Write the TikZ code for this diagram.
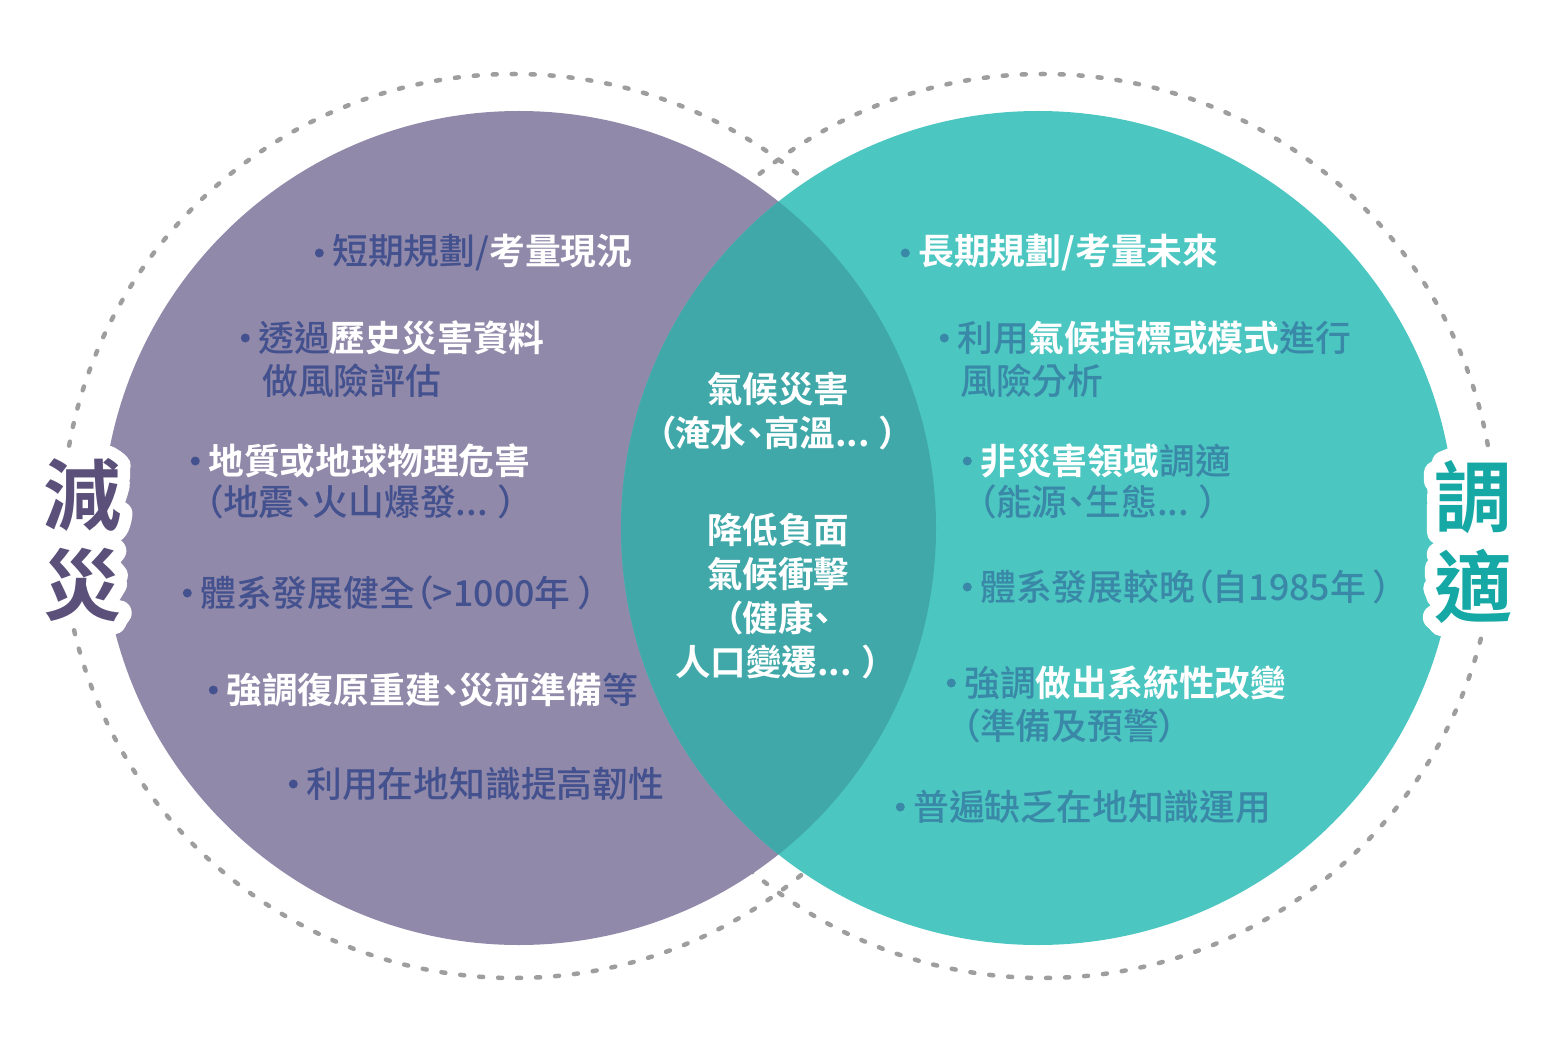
\documentclass[tikz,border=0pt]{standalone}
\usepackage{fontspec}
\newfontfamily\tcfont[RawFeature=+palt, UprightFont=* Medium, BoldFont=* Bold]{Noto Sans CJK TC}
\newfontfamily\halofont[FakeBold=32]{Noto Sans CJK TC Bold}
\usetikzlibrary{positioning}

\definecolor{mauve}{HTML}{9189A9}
\definecolor{aqua}{HTML}{4BC6C1}
\definecolor{overlap}{HTML}{41A8A9}
\definecolor{inkL}{HTML}{44518F}
\definecolor{inkR}{HTML}{3A88A7}
\definecolor{ring}{HTML}{9E9E9E}
\definecolor{tagL}{HTML}{5B5079}
\definecolor{tagR}{HTML}{15A8A5}

\newcommand{\hl}[1]{\textcolor{white}{\bfseries #1}}

\begin{document}
\begin{tikzpicture}[
  x=1pt, y=-1pt,
  txt/.style={inner sep=0pt, anchor=west, font=\tcfont\fontsize{35.8}{43}\selectfont},
  mid/.style={inner sep=0pt, align=center, text=white, font=\tcfont\bfseries\fontsize{35.5}{44}\selectfont},
  pip/.style={circle, fill=#1, inner sep=0pt, minimum size=9pt},
  tag/.style={inner sep=0pt, align=center, font=\tcfont\bfseries\fontsize{78}{90}\selectfont},
  halo/.style={inner sep=0pt, align=center, text=white, line join=round,
    execute at begin node={\special{pdf:code 1 j 1 J}},
    font=\halofont\fontsize{78}{90}\selectfont},
  dashring/.style={draw=ring, line width=4.5pt, line cap=round, dash pattern=on 4pt off 15pt}
]
  \useasboundingbox (0,0) rectangle (1554,1048);

  % outer dashed rings
  \draw[dashring] (514,526) circle[radius=452];
  \draw[dashring] (1043,526) circle[radius=452];

  % the two sets and their overlap
  \fill[mauve] (519,528) circle[radius=417];
  \fill[aqua] (1038,528) circle[radius=417];
  \begin{scope}
    \clip (519,528) circle[radius=417];
    \fill[overlap] (1038,528) circle[radius=417];
  \end{scope}

  % left side
  \node[txt, text=inkL] (l1) at (332,253) {短期規劃/\hl{考量現況}};
  \node[pip=inkL, left=8pt of l1] (p1) {};
  \node[txt, text=inkL] (l2) at (258,338) {透過\hl{歷史災害資料}};
  \node[pip=inkL, left=8pt of l2] (p2) {};
  \node[txt, text=inkL] (l2b) at (262,381) {做風險評估};
  \node[txt, text=inkL] (l3) at (208,461) {\hl{地質或地球物理危害}};
  \node[pip=inkL, left=8pt of l3] (p3) {};
  \node[txt, text=inkL] (l3b) at (205,502) {（地震、火山爆發... ）};
  \node[txt, text=inkL] (l4) at (200,593) {體系發展健全（>1000年 ）};
  \node[pip=inkL, left=8pt of l4] (p4) {};
  \node[txt, text=inkL] (l5) at (226,690) {\hl{強調復原重建、災前準備}等};
  \node[pip=inkL, left=8pt of l5] (p5) {};
  \node[txt, text=inkL] (l6) at (306,784) {利用在地知識提高韌性};
  \node[pip=inkL, left=8pt of l6] (p6) {};

  % right side
  \node[txt, text=inkR] (r1) at (918,253) {\hl{長期規劃/考量未來}};
  \node[pip=inkR, left=8pt of r1] (q1) {};
  \node[txt, text=inkR] (r2) at (957,338) {利用\hl{氣候指標或模式}進行};
  \node[pip=inkR, left=8pt of r2] (q2) {};
  \node[txt, text=inkR] (r2b) at (960,381) {風險分析};
  \node[txt, text=inkR] (r3) at (980,461) {\hl{非災害領域}調適};
  \node[pip=inkR, left=8pt of r3] (q3) {};
  \node[txt, text=inkR] (r3b) at (978,502) {（能源、生態... ）};
  \node[txt, text=inkR] (r4) at (980,587) {體系發展較晚（自1985年 ）};
  \node[pip=inkR, left=8pt of r4] (q4) {};
  \node[txt, text=inkR] (r5) at (964,683) {強調\hl{做出系統性改變}};
  \node[pip=inkR, left=8pt of r5] (q5) {};
  \node[txt, text=inkR] (r5b) at (962,726) {（準備及預警）};
  \node[txt, text=inkR] (r6) at (913,807) {普遍缺乏在地知識運用};
  \node[pip=inkR, left=8pt of r6] (q6) {};

  % shared middle
  \node[mid] (m1) at (778,411) {氣候災害\\（淹水、高溫... ）};
  \node[mid] (m2) at (778,596) {降低負面\\氣候衝擊\\（健康、\\人口變遷... ）};

  % side titles with white halo
  \node[halo] (haloL) at (82,540) {減\\災};
  \node[halo] (haloR) at (1473,542) {調\\適};
  \node[tag, text=tagL] (zaiL) at (82,540) {減\\災};
  \node[tag, text=tagR] (tiaoR) at (1473,542) {調\\適};
\end{tikzpicture}
\end{document}
